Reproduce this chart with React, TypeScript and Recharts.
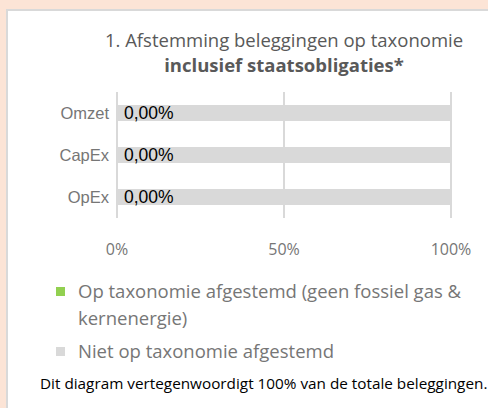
import React from 'react';
import { BarChart, Bar, XAxis, YAxis, CartesianGrid, LabelList } from 'recharts';

const categories = ['Omzet', 'CapEx', 'OpEx'];
const alignedValues = [0, 0, 0];
const notAlignedValues = [100, 100, 100];
const xTicks = [0, 50, 100];
const seriesNames = ['Op taxonomie afgestemd (geen fossiel gas & kernenergie)', 'Niet op taxonomie afgestemd'];

const GREEN = '#92d050';
const GREY = '#d9d9d9';
const TEXT = '#595959';
const LIGHT = '#767676';
const CAL = '"Open Sans", "Noto Sans", sans-serif';
const ARIAL = '"Liberation Sans", Arial, sans-serif';

const data = categories.map((name, i) => ({
  name,
  aligned: alignedValues[i],
  notAligned: notAlignedValues[i],
}));

const fmt = (v: number) => v.toFixed(2).replace('.', ',') + '%';

// label for the aligned share, drawn at the start of the stacked bar
function ValueLabel(props: any) {
  const { x, y, height, value } = props;
  return (
    <text x={x + 7} y={y + height / 2} dy={6} fill="#000" fontSize={17.5} fontFamily={ARIAL}>
      {fmt(Number(value))}
    </text>
  );
}

export default function App() {
  return (
    <div style={{ position: 'fixed', left: 0, top: 0, width: 488, height: 408, background: '#fce4d6', overflow: 'hidden' }}>
      <div style={{ position: 'absolute', left: 6, top: 9, right: 0, bottom: 0, background: '#fff', borderLeft: '2px solid #d9d9d9', borderTop: '2px solid #d9d9d9' }} />
      <div style={{ position: 'absolute', left: 0, top: 0, width: 488, height: 408 }}>
        <BarChart
          width={488}
          height={408}
          data={data}
          layout="vertical"
          margin={{ top: 92, right: 37, bottom: 150, left: 0 }}
          barSize={16}
        >
          <CartesianGrid horizontal={false} stroke={GREY} strokeWidth={2} />
          <XAxis
            type="number"
            domain={[0, 100]}
            ticks={xTicks}
            tickFormatter={(v) => v + '%'}
            axisLine={false}
            tickLine={false}
            height={40}
            tickMargin={20}
            tick={{ fill: LIGHT, fontSize: 16, fontFamily: CAL }}
          />
          <YAxis
            type="category"
            dataKey="name"
            width={117}
            axisLine={false}
            tickLine={false}
            tickMargin={2}
            tick={{ fill: LIGHT, fontSize: 16.5, fontFamily: ARIAL }}
          />
          <Bar dataKey="aligned" stackId="a" fill={GREEN} isAnimationActive={false} />
          <Bar dataKey="notAligned" stackId="a" fill={GREY} isAnimationActive={false}>
            <LabelList dataKey="aligned" content={<ValueLabel />} />
          </Bar>
        </BarChart>
      </div>
      <div style={{ position: 'absolute', left: 0, width: 568, top: 27, textAlign: 'center', fontFamily: CAL, fontSize: 18.5, color: TEXT, lineHeight: '25px' }}>
        1. Afstemming beleggingen op taxonomie
        <br />
        <b>inclusief staatsobligaties*</b>
      </div>
      <div style={{ position: 'absolute', left: 56, top: 277, fontFamily: CAL, fontSize: 18.5, color: LIGHT, lineHeight: '27px' }}>
        <div style={{ display: 'flex' }}>
          <span style={{ width: 9, height: 9, background: GREEN, marginTop: 10, marginRight: 13, flex: 'none' }} />
          <span style={{ width: 410 }}>{seriesNames[0]}</span>
        </div>
        <div style={{ display: 'flex', marginTop: 6 }}>
          <span style={{ width: 9, height: 9, background: GREY, marginTop: 10, marginRight: 13, flex: 'none' }} />
          <span>{seriesNames[1]}</span>
        </div>
      </div>
      <div style={{ position: 'absolute', left: 40, top: 373, fontFamily: CAL, fontSize: 15.3, color: '#000', whiteSpace: 'nowrap' }}>
        Dit diagram vertegenwoordigt 100% van de totale beleggingen.
      </div>
    </div>
  );
}
